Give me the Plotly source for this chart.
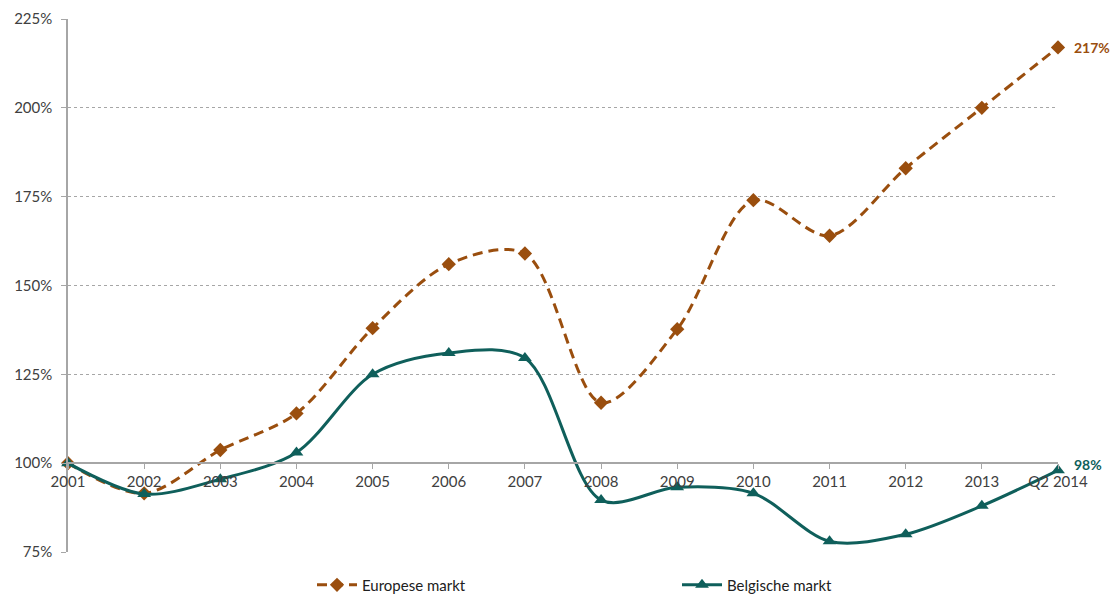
import plotly.graph_objects as go

categories = ["2001", "2002", "2003", "2004", "2005", "2006", "2007",
              "2008", "2009", "2010", "2011", "2012", "2013", "Q2 2014"]
europese = [100, 91.5, 103.7, 114, 138, 156, 159, 117, 137.7, 174, 164, 183, 200, 217]
belgische = [100, 91.3, 95.5, 103, 125, 131, 129.6, 89.6, 93.2, 91.5, 78, 80, 88, 98]
y_ticks = [75, 100, 125, 150, 175, 200, 225]
y_labels = ["75%", "100%", "125%", "150%", "175%", "200%", "225%"]

brown = "#9A4E0E"
teal = "#0F5F5B"
font_family = "Lato, 'Open Sans', sans-serif"

fig = go.Figure()
fig.add_trace(go.Scatter(
    x=categories, y=europese, name="Europese markt",
    mode="lines+markers",
    line=dict(color=brown, width=3, dash="10px,6px", shape="spline", smoothing=0.9),
    marker=dict(symbol="diamond", size=11, color=brown),
    cliponaxis=False,
))
fig.add_trace(go.Scatter(
    x=categories, y=belgische, name="Belgische markt",
    mode="lines+markers",
    line=dict(color=teal, width=3, shape="spline", smoothing=0.9),
    marker=dict(symbol="triangle-up", size=12, color=teal),
    cliponaxis=False,
))

# end-of-line value labels
for vals, col, dy in [(europese, brown, 0), (belgische, teal, 6)]:
    fig.add_annotation(
        x=categories[-1], y=vals[-1], text=f"{round(vals[-1])}%",
        showarrow=False, xanchor="left", yanchor="middle",
        xshift=14, yshift=dy,
        font=dict(color=col, size=14, family=font_family, weight="bold"),
    )

fig.update_layout(
    width=1115, height=594,
    margin=dict(l=68, r=57, t=19, b=42, autoexpand=False),
    paper_bgcolor="white", plot_bgcolor="white",
    font=dict(family=font_family, size=15, color="#404040"),
    showlegend=True,
    legend=dict(orientation="h", x=(312 - 68) / 990, y=-0.062, xanchor="left", yanchor="middle",
                entrywidth=310, entrywidthmode="pixels",
                font=dict(size=15, color="#202020"), itemwidth=40),
    xaxis=dict(
        type="category", range=[0, 13],
        anchor="free", position=(100 - 75) / 150,
        showline=True, linecolor="#A6A6A6", linewidth=1.5,
        ticks="outside", ticklen=5, tickcolor="#A6A6A6",
        showgrid=False, zeroline=False,
        tickfont=dict(size=15, color="#404040"),
    ),
    yaxis=dict(
        range=[75, 225], tickvals=y_ticks, ticktext=y_labels,
        showline=True, linecolor="#A6A6A6", linewidth=1.5,
        ticks="outside", ticklen=5, tickcolor="#A6A6A6",
        showgrid=True, gridcolor="#A6A6A6", griddash="dot", gridwidth=1,
        zeroline=False, ticklabelstandoff=6,
        tickfont=dict(size=15, color="#404040"),
    ),
)

fig.write_html("out.html")
